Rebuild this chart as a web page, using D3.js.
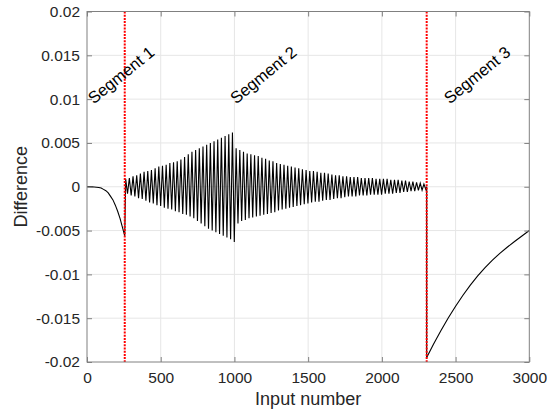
<!DOCTYPE html>
<html>
<head>
<meta charset="utf-8">
<script src="https://cdn.jsdelivr.net/npm/d3@7"></script>
<style>
  body { margin: 0; background: #fff; }
  svg { display: block; font-family: "Liberation Sans", Arial, Helvetica, sans-serif; }
  .tick text { fill: #262626; }
</style>
</head>
<body>
<div id="chart"></div>
<script>
// Chart data

// Segment 1: smooth drop
const seg1X = [0, 16, 32, 48, 64, 80, 96, 112, 128, 144, 160, 176, 192, 208, 224, 240, 256];
const seg1Y = [0, 0, -0.00001, -0.00003, -0.00005, -0.00008, -0.00015, -0.0003, -0.00045,
               -0.0007, -0.0011, -0.0015, -0.0021, -0.0028, -0.0036, -0.0046, -0.0056];

// Segment 2: oscillation, one upper and one lower extreme per cycle
const seg2Range = [256, 2304];
const seg2Upper = [
  0.0009, 0.0010, 0.0012, 0.0013, 0.0015, 0.0017, 0.0018, 0.0019, 0.0021, 0.0023,
  0.0024, 0.0025, 0.0027, 0.0028, 0.0029, 0.0031, 0.0034, 0.0037, 0.0040, 0.0042,
  0.0044, 0.0046, 0.0048, 0.0050, 0.0052, 0.0054, 0.0056, 0.0058, 0.0060, 0.0062,
  0.0044, 0.0042, 0.0040, 0.0038, 0.0037, 0.0036, 0.0035, 0.0033, 0.0032, 0.0030,
  0.0029, 0.0027, 0.0026, 0.0025, 0.0024, 0.0023, 0.0022, 0.0021, 0.0020, 0.0019,
  0.0018, 0.0018, 0.0017, 0.0016, 0.0016, 0.0015, 0.0014, 0.0013, 0.0013, 0.0012,
  0.0012, 0.0011, 0.0011, 0.0011, 0.0010, 0.0010, 0.0010, 0.0010, 0.0009, 0.0009,
  0.0009, 0.0009, 0.0008, 0.0008, 0.0008, 0.0007, 0.0007, 0.0006, 0.0006, 0.0005,
  0.0004, 0.0003
];
const seg2Lower = [
  -0.0008, -0.0010, -0.0011, -0.0013, -0.0014, -0.0016, -0.0018, -0.0019, -0.0021, -0.0022,
  -0.0024, -0.0025, -0.0026, -0.0028, -0.0029, -0.0031, -0.0032, -0.0034, -0.0036, -0.0039,
  -0.0042, -0.0045, -0.0048, -0.0050, -0.0052, -0.0054, -0.0056, -0.0058, -0.0060, -0.0063,
  -0.0042, -0.0039, -0.0038, -0.0036, -0.0035, -0.0034, -0.0033, -0.0032, -0.0031, -0.0030,
  -0.0029, -0.0027, -0.0026, -0.0025, -0.0024, -0.0023, -0.0022, -0.0021, -0.0020, -0.0019,
  -0.0018, -0.0017, -0.0017, -0.0016, -0.0015, -0.0015, -0.0014, -0.0013, -0.0013, -0.0012,
  -0.0011, -0.0011, -0.0011, -0.0010, -0.0010, -0.0010, -0.0009, -0.0009, -0.0009, -0.0009,
  -0.0008, -0.0008, -0.0008, -0.0007, -0.0007, -0.0006, -0.0006, -0.0005, -0.0005, -0.0004,
  -0.0004, -0.0003
];

// Segment 3: recovering curve
const seg3X = [2304, 2350, 2400, 2450, 2500, 2550, 2600, 2650, 2700, 2750, 2800, 2850, 2900, 2950, 3000];
const seg3Y = [-0.0195, -0.01798, -0.01643, -0.01498, -0.01363, -0.01238, -0.01123, -0.01018,
               -0.00923, -0.00838, -0.00760, -0.00690, -0.00625, -0.00562, -0.00500];

// Segment boundaries and labels
const boundaries = [256, 2304];
const segLabels = ['Segment 1', 'Segment 2', 'Segment 3'];
const segLabelX = [45, 1010, 2460];
const segLabelY = 0.0094;

const xTicks = [0, 500, 1000, 1500, 2000, 2500, 3000];
const yTicks = [-0.02, -0.015, -0.01, -0.005, 0, 0.005, 0.01, 0.015, 0.02];

const WIDTH = 547, HEIGHT = 410;
const PLOT = { left: 87, right: 529.3, top: 11.5, bottom: 362 };

const svg = d3.select('#chart').append('svg')
    .attr('width', WIDTH)
    .attr('height', HEIGHT);

const x = d3.scaleLinear().domain([0, 3000]).range([PLOT.left, PLOT.right]);
const y = d3.scaleLinear().domain([-0.02, 0.02]).range([PLOT.bottom, PLOT.top]);

const fmt = d => String(+d.toFixed(3));

// Grid lines
svg.append('g')
    .selectAll('line')
    .data(xTicks.slice(1, -1))
    .enter().append('line')
    .attr('x1', d => x(d)).attr('x2', d => x(d))
    .attr('y1', PLOT.top).attr('y2', PLOT.bottom)
    .attr('stroke', '#e6e6e6').attr('stroke-width', 1);

svg.append('g')
    .selectAll('line')
    .data(yTicks.slice(1, -1))
    .enter().append('line')
    .attr('x1', PLOT.left).attr('x2', PLOT.right)
    .attr('y1', d => y(d)).attr('y2', d => y(d))
    .attr('stroke', '#e6e6e6').attr('stroke-width', 1);

// Build the full signal from the three segments
const points = [];
seg1X.forEach((v, i) => points.push([v, seg1Y[i]]));
const n = seg2Upper.length;
const span = seg2Range[1] - seg2Range[0];
for (let k = 0; k < n; k++) {
    points.push([seg2Range[0] + span * (k + 0.25) / n, seg2Upper[k]]);
    points.push([seg2Range[0] + span * (k + 0.75) / n, seg2Lower[k]]);
}
points.push([seg2Range[1], 0]);
seg3X.forEach((v, i) => points.push([v, seg3Y[i]]));

const line = d3.line()
    .x(d => x(d[0]))
    .y(d => y(d[1]));

svg.append('path')
    .datum(points)
    .attr('d', line)
    .attr('fill', 'none')
    .attr('stroke', '#000')
    .attr('stroke-width', 1.1)
    .attr('stroke-linejoin', 'miter');

// Red dotted segment boundaries
svg.append('g')
    .selectAll('line')
    .data(boundaries)
    .enter().append('line')
    .attr('x1', d => x(d)).attr('x2', d => x(d))
    .attr('y1', PLOT.top).attr('y2', PLOT.bottom)
    .attr('stroke', '#ff0000')
    .attr('stroke-width', 2)
    .attr('stroke-dasharray', '2,1.2');

// Segment labels
svg.append('g')
    .selectAll('text')
    .data(segLabels)
    .enter().append('text')
    .attr('transform', (d, i) => `translate(${x(segLabelX[i])},${y(segLabelY)}) rotate(-39)`)
    .attr('font-size', '16.5px')
    .attr('fill', '#000')
    .text(d => d);

// Axes (ticks pointing inward, MATLAB style)
const axisColor = '#808080';

const gx = svg.append('g')
    .attr('transform', `translate(0,${PLOT.bottom})`)
    .call(d3.axisBottom(x).tickValues(xTicks).tickSizeInner(-5).tickSizeOuter(0).tickPadding(10)
        .tickFormat(d3.format('d')));
const gy = svg.append('g')
    .attr('transform', `translate(${PLOT.left},0)`)
    .call(d3.axisLeft(y).tickValues(yTicks).tickSizeInner(-5).tickSizeOuter(0).tickPadding(7)
        .tickFormat(fmt));
const gt = svg.append('g')
    .attr('transform', `translate(0,${PLOT.top})`)
    .call(d3.axisTop(x).tickValues(xTicks).tickSizeInner(-5).tickSizeOuter(0).tickFormat(''));
const gr = svg.append('g')
    .attr('transform', `translate(${PLOT.right},0)`)
    .call(d3.axisRight(y).tickValues(yTicks).tickSizeInner(-5).tickSizeOuter(0).tickFormat(''));

[gx, gy, gt, gr].forEach(g => {
    g.select('.domain').remove();
    g.selectAll('.tick line').attr('stroke', axisColor);
    g.selectAll('text')
        .attr('font-size', '15.5px')
        .attr('font-family', '"Liberation Sans", Arial, Helvetica, sans-serif');
});

// Box
svg.append('rect')
    .attr('x', PLOT.left).attr('y', PLOT.top)
    .attr('width', PLOT.right - PLOT.left)
    .attr('height', PLOT.bottom - PLOT.top)
    .attr('fill', 'none')
    .attr('stroke', axisColor)
    .attr('stroke-width', 1);

// Axis labels
svg.append('text')
    .attr('x', (PLOT.left + PLOT.right) / 2)
    .attr('y', 405)
    .attr('text-anchor', 'middle')
    .attr('font-size', '18px')
    .attr('fill', '#262626')
    .text('Input number');

svg.append('text')
    .attr('transform', `translate(27,${(PLOT.top + PLOT.bottom) / 2}) rotate(-90)`)
    .attr('text-anchor', 'middle')
    .attr('font-size', '18px')
    .attr('fill', '#262626')
    .text('Difference');
</script>
</body>
</html>
